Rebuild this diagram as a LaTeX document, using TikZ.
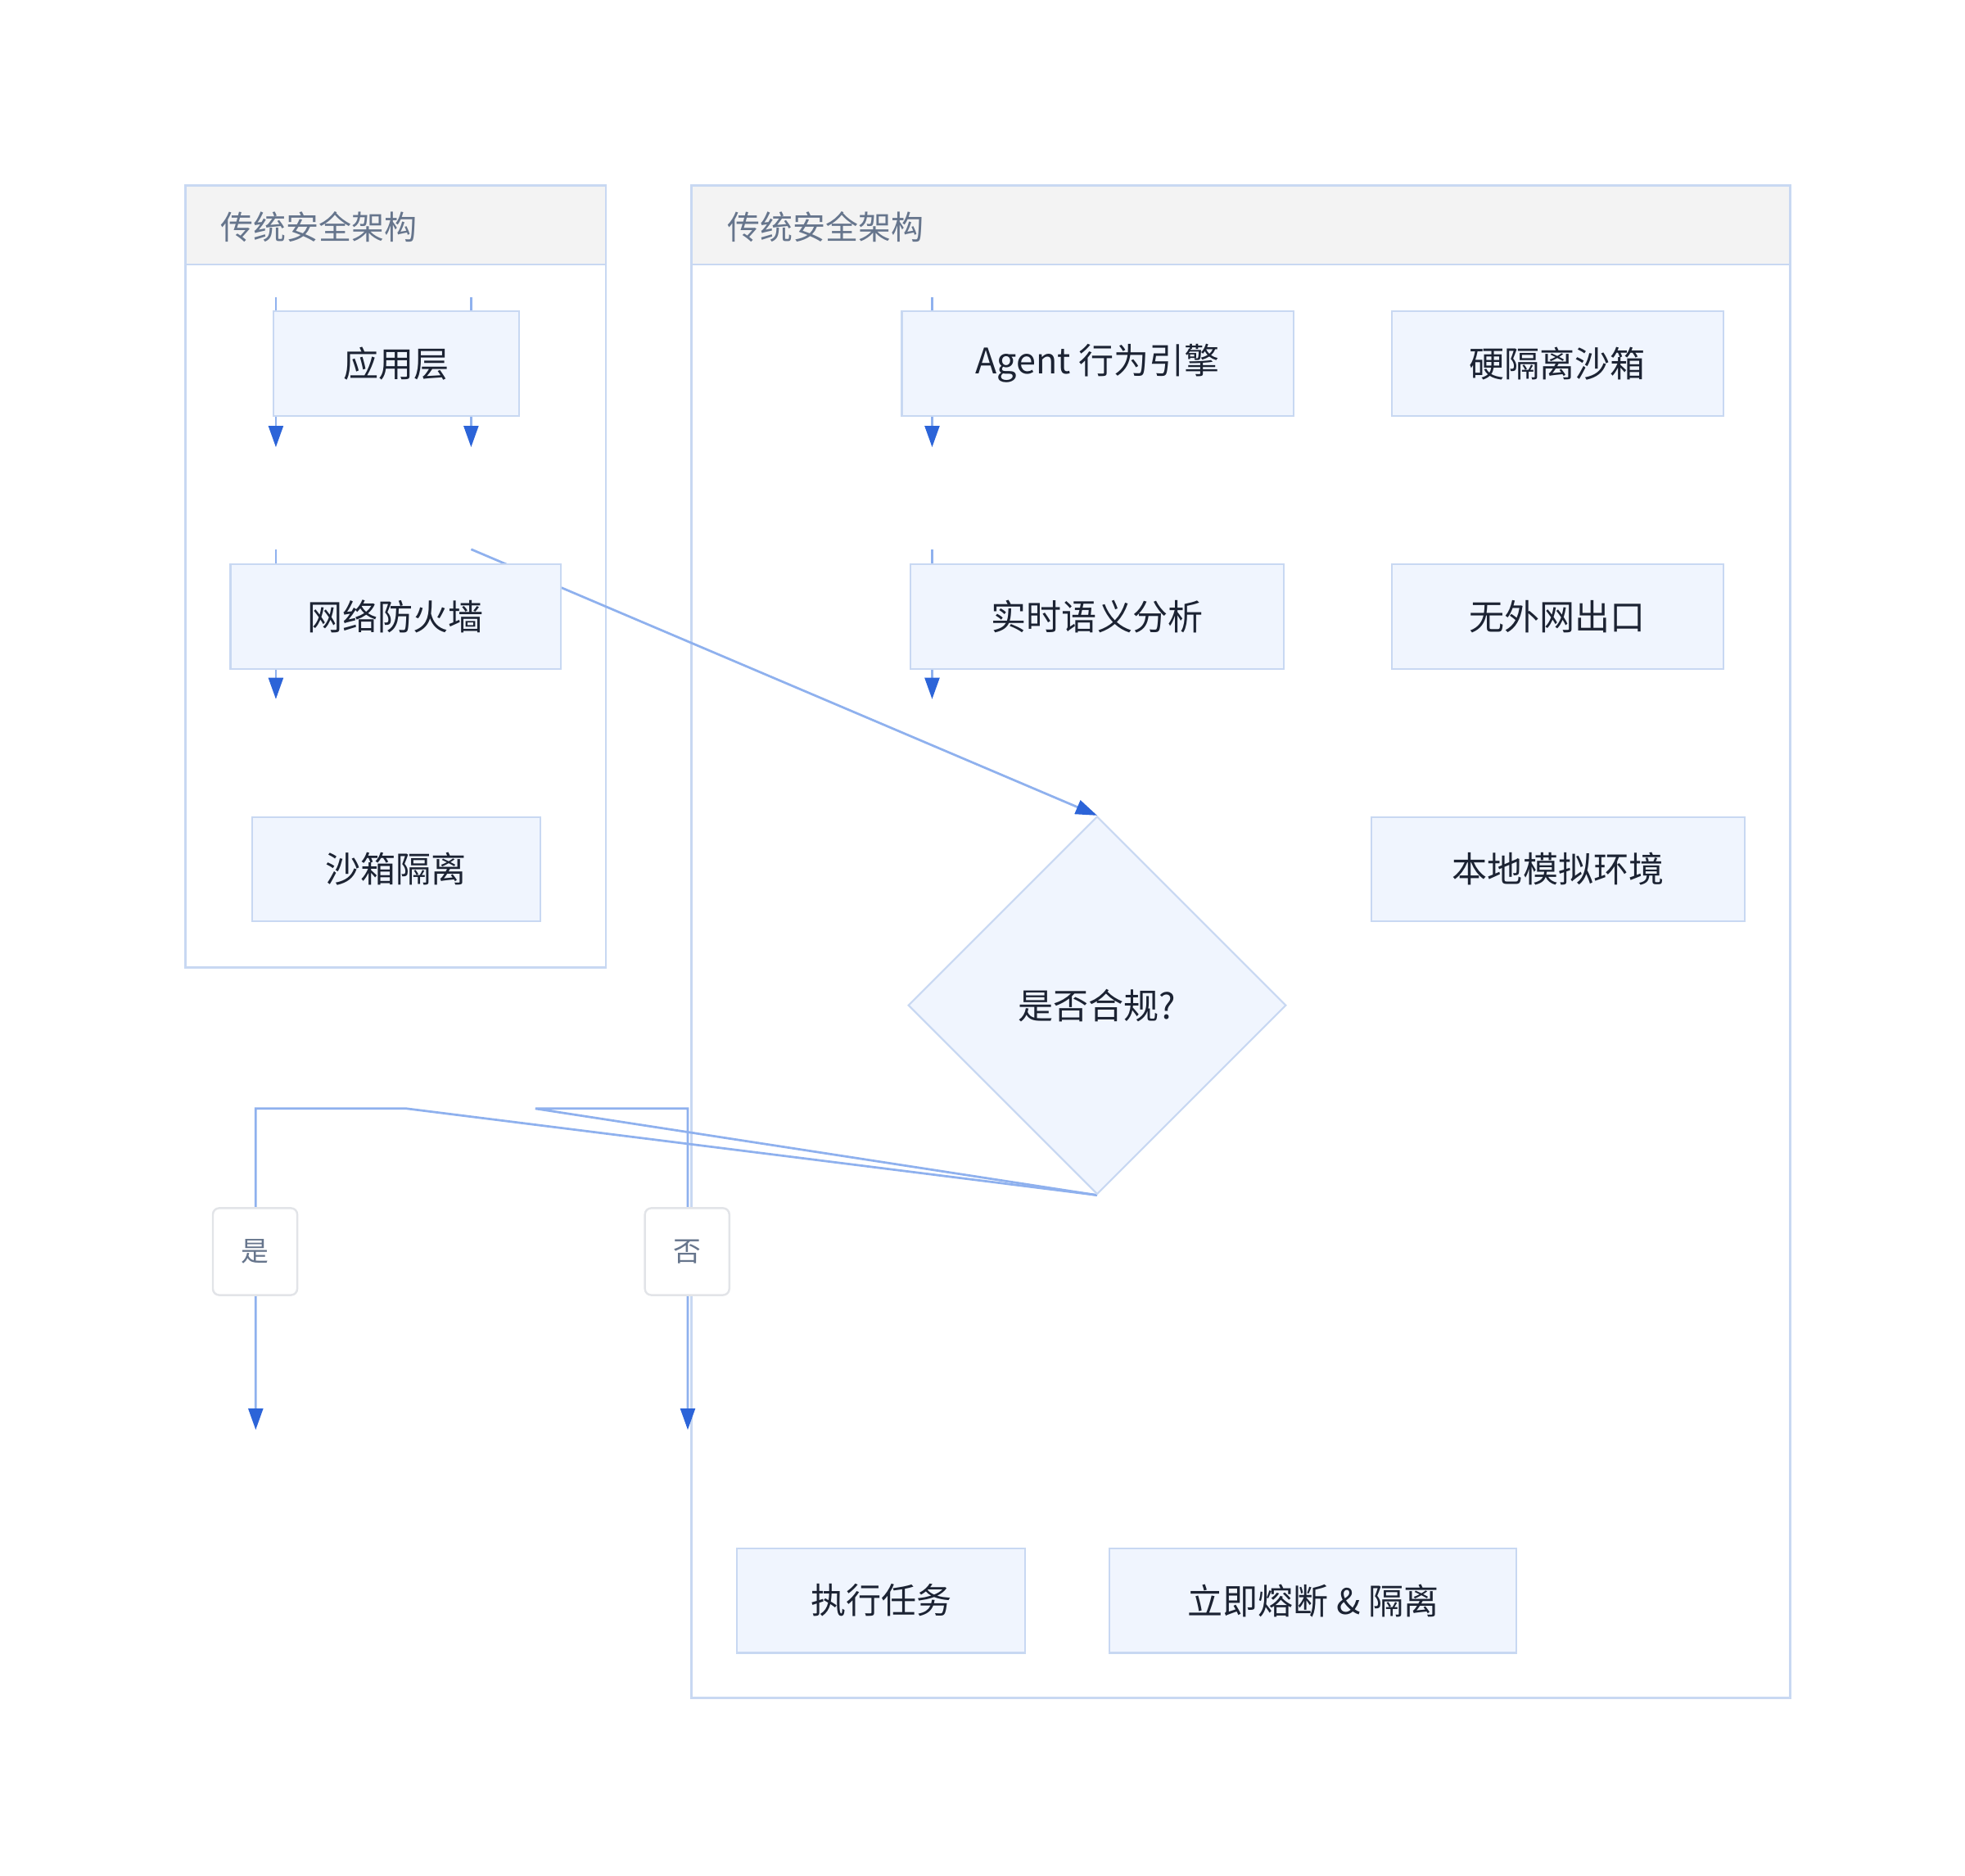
\documentclass[tikz,border=0pt]{standalone}
\usepackage{fontspec}
\setmainfont{Noto Sans CJK SC}
\usetikzlibrary{arrows.meta,shapes.geometric}

\definecolor{boxfill}{HTML}{F0F5FE}
\definecolor{boxline}{HTML}{C8D8F2}
\definecolor{edgeline}{HTML}{8FB1EE}
\definecolor{tipblue}{HTML}{2C64D8}
\definecolor{headfill}{HTML}{F3F3F3}
\definecolor{headtext}{HTML}{66758C}
\definecolor{nodetext}{HTML}{1C2333}
\definecolor{lblline}{HTML}{E2E4E8}

\pgfdeclarelayer{back}
\pgfdeclarelayer{mid}
\pgfsetlayers{back,mid,main}

\tikzset{
  box/.style={draw=boxline, fill=boxfill, line width=0.7pt, minimum height=41.5pt,
    inner sep=0pt, font=\fontsize{14}{16}\selectfont, text=nodetext},
  check/.style={box, diamond, minimum width=150pt, minimum height=150pt},
  flow/.style={draw=edgeline, line width=0.9pt,
    -{Triangle[length=8.5pt,width=5.8pt,color=tipblue]}},
  lbl/.style={draw=lblline, fill=white, rounded corners=2.5pt, line width=0.8pt,
    minimum width=33.5pt, minimum height=34.5pt, inner sep=0pt,
    font=\fontsize{11}{13}\selectfont, text=headtext},
  cluster/.style={draw=boxline, line width=0.9pt},
  head/.style={cluster, fill=headfill},
  headlabel/.style={anchor=west, inner sep=0pt, font=\fontsize{13}{15}\selectfont, text=headtext},
}

\begin{document}
\begin{tikzpicture}[x=0.5pt, y=-0.5pt]
\useasboundingbox (0,0) rectangle (1560,1489);

% clusters
\begin{pgfonlayer}{back}
\draw[cluster] (147,147) rectangle (481,768);
\draw[head] (147,147) rectangle (481,210);
\draw[cluster] (549,147) rectangle (1421,1348);
\draw[head] (549,147) rectangle (1421,210);
\end{pgfonlayer}
\node[headlabel] (leftTitle) at (175,180) {传统安全架构};
\node[headlabel] (rightTitle) at (577,180) {传统安全架构};

% left column
\node[box, minimum width=97.5pt] (app) at (314.5,288.5) {应用层};
\node[box, minimum width=131pt] (firewall) at (314,489.5) {网络防火墙};
\node[box, minimum width=114.5pt] (sandbox) at (314.5,690) {沙箱隔离};

% right column
\node[box, minimum width=155.5pt] (engine) at (871.5,288.5) {Agent 行为引擎};
\node[box, minimum width=148pt] (semantic) at (871,489.5) {实时语义分析};
\node[check] (comply) at (871,798) {是否合规?};
\node[box, minimum width=131.5pt] (hardbox) at (1236.5,288.5) {硬隔离沙箱};
\node[box, minimum width=131.5pt] (noexit) at (1236.5,489.5) {无外网出口};
\node[box, minimum width=148pt] (localsim) at (1237,690) {本地模拟环境};
\node[box, minimum width=114.5pt] (run) at (699.5,1270.5) {执行任务};
\node[box, minimum width=161.5pt] (cutoff) at (1042.5,1270.5) {立即熔断 \& 隔离};

% branch labels
\node[lbl] (yes) at (202.5,993.5) {是};
\node[lbl] (no) at (545.5,993.5) {否};

% free ends
\coordinate (fwTop) at (374,436);
\coordinate (yesEnd) at (203,1135);
\coordinate (noEnd) at (546,1135);

% connectors
\begin{pgfonlayer}{mid}
\foreach \x/\y in {219/236, 374/236, 219/436, 740/236, 740/436}
    \draw[flow] (\x,\y) -- (\x,\y+119);
\draw[flow] (fwTop) -- (comply.north);
\draw[flow] (comply.south) -- (323,880) -- (203,880) -- (yesEnd);
\draw[flow] (comply.south) -- (425,880) -- (546,880) -- (noEnd);
\end{pgfonlayer}
\end{tikzpicture}
\end{document}
